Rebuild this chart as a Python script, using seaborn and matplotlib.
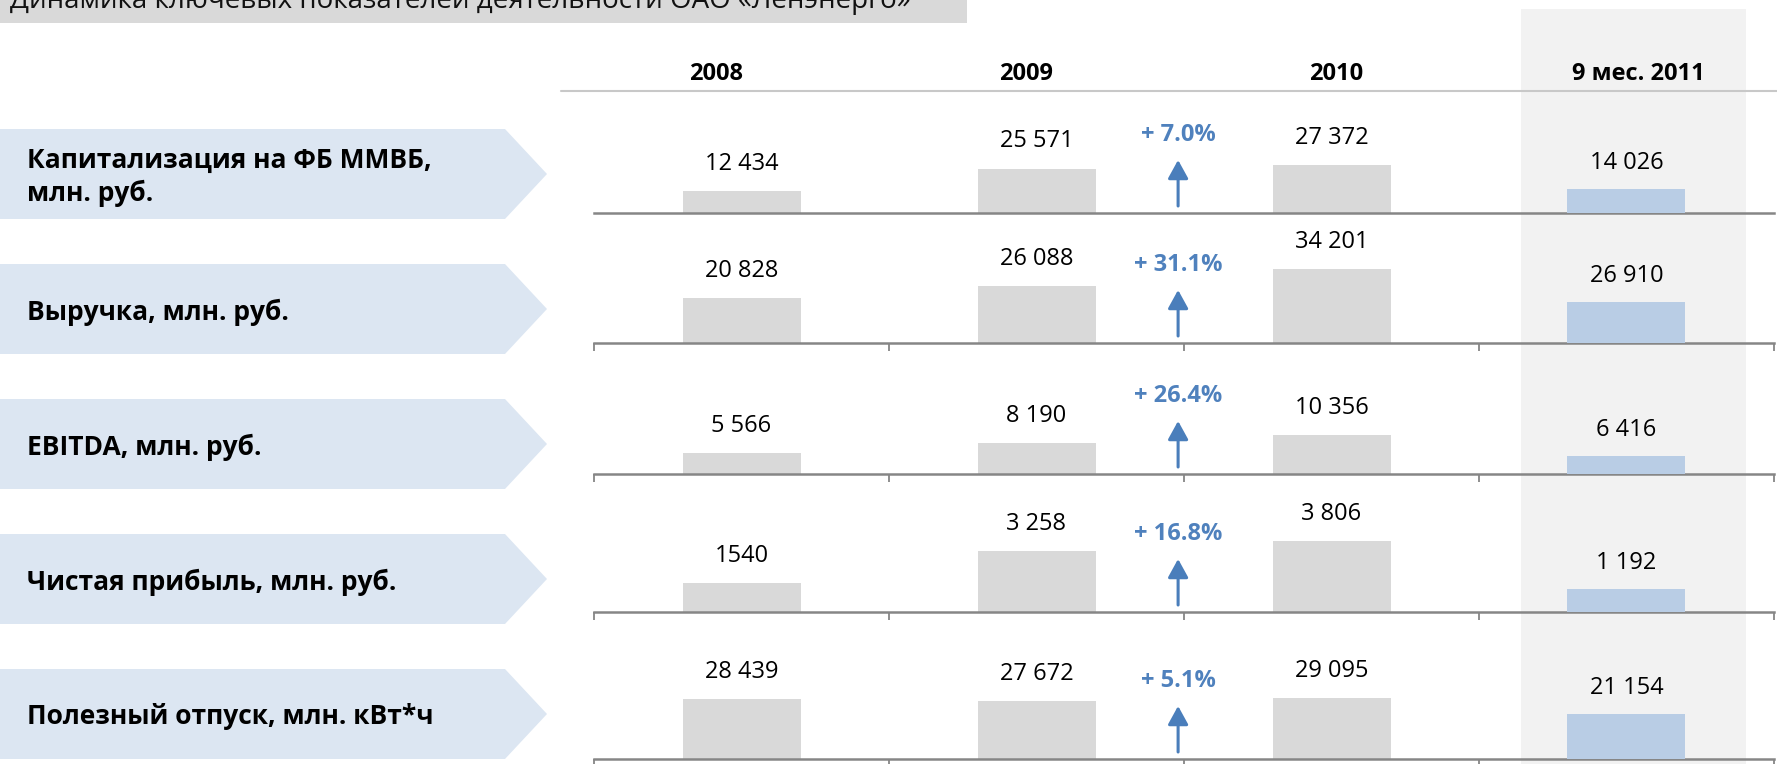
import numpy as np
import pandas as pd
import matplotlib
matplotlib.use('Agg')
import matplotlib.pyplot as plt
import seaborn as sns
from matplotlib.patches import Polygon, Rectangle
from matplotlib.transforms import blended_transform_factory

# данные со слайда
title = 'Динамика ключевых показателей деятельности ОАО «Ленэнерго»'
periods = ['2008', '2009', '2010', '9 мес. 2011']
metrics = ['Капитализация на ФБ ММВБ,\nмлн. руб.',
           'Выручка, млн. руб.',
           'EBITDA, млн. руб.',
           'Чистая прибыль, млн. руб.',
           'Полезный отпуск, млн. кВт*ч']
v2008 = [12434, 20828, 5566, 1540, 28439]
v2009 = [25571, 26088, 8190, 3258, 27672]
v2010 = [27372, 34201, 10356, 3806, 29095]
v2011 = [14026, 26910, 6416, 1192, 21154]
growth = ['+ 7.0%', '+ 31.1%', '+ 26.4%', '+ 16.8%', '+ 5.1%']
no_space = [1540]  # на слайде без пробела

# разметка (пиксели)
W, H = 1777, 764
ax_l, ax_r = 594, 1774
baselines = [213, 343, 474, 612, 759]
box_tops = [129, 264, 399, 534, 669]
ax_h = 100
ymax_main = [57500, 46100, 26450, 5350, 47600]
ymax_part = [58400, 65800, 35700, 5180, 47000]
head_dx = [-0.085, -0.034, 0.014, 0.04]

grey_bar = '#d9d9d9'
blue_bar = '#b9cde5'
blue = '#4a7ebb'
axis_c = '#868686'

sns.set_style('white')
plt.rcParams['font.family'] = ['Open Sans', 'DejaVu Sans']


def fmt(v):
    if v in no_space:
        return str(v)
    return f'{v:,}'.replace(',', ' ')


df = pd.DataFrame({
    'metric': np.repeat(range(len(metrics)), len(periods)),
    'period': periods * len(metrics),
    'value': np.ravel(np.column_stack([v2008, v2009, v2010, v2011])),
})

fig = plt.figure(figsize=(W / 100, H / 100), dpi=100)

# фон: заголовок, стрелки-подписи, выделение колонки 2011
bg = fig.add_axes([0, 0, 1, 1], zorder=0)
bg.set_xlim(0, W)
bg.set_ylim(H, 0)
bg.axis('off')
bg.add_patch(Rectangle((0, 0), 967, 23, color='#d9d9d9', lw=0))
bg.add_patch(Rectangle((1521, 9), 225, H, color='#f2f2f2', lw=0))
bg.plot([561, W], [91, 91], color='#c8c8c8', lw=1.5)
bg.text(10, 8, title, va='baseline', ha='left', fontsize=20, color='#111111')
for top, name in zip(box_tops, metrics):
    pts = [(0, top), (505, top), (547, top + 45), (505, top + 90), (0, top + 90)]
    bg.add_patch(Polygon(pts, closed=True, color='#dce6f2', lw=0))
    bg.text(27, top + 48, name, va='center', ha='left', fontsize=19,
            fontweight='bold', linespacing=1.25, color='#000000')

axes = []
for i in range(len(metrics)):
    b = baselines[i]
    ax = fig.add_axes([ax_l / W, (H - b) / H, (ax_r - ax_l) / W, ax_h / H], zorder=2)
    ax.patch.set_alpha(0)
    sub = df[df.metric == i]
    sns.barplot(data=sub[sub.period != periods[-1]], x='period', y='value', order=periods,
                color=grey_bar, saturation=1, width=0.4, linewidth=0, ax=ax)
    ax2 = ax.twinx()
    sns.barplot(data=sub[sub.period == periods[-1]], x='period', y='value', order=periods,
                color=blue_bar, saturation=1, width=0.4, linewidth=0, ax=ax2)
    ax.set_ylim(0, ymax_main[i])
    ax2.set_ylim(0, ymax_part[i])
    for a in (ax, ax2):
        a.set_xlim(-0.5, 3.5)
        a.set_xlabel('')
        a.set_ylabel('')
        a.set_yticks([])
        for s in ('left', 'right', 'top'):
            a.spines[s].set_visible(False)
    ax2.spines['bottom'].set_visible(False)
    ax.spines['bottom'].set_color(axis_c)
    ax.spines['bottom'].set_linewidth(1.8)
    ax.set_xticks([-0.5, 0.5, 1.5, 2.5, 3.5])
    ax.tick_params(axis='x', bottom=(i > 0), length=5.5, width=1.3, color=axis_c,
                   labelbottom=False, direction='out')

    vals = sub.value.tolist()
    for j in range(3):
        ax.annotate(fmt(vals[j]), xy=(j, vals[j]), xytext=(0, 19.5), textcoords='offset points',
                    ha='center', va='center', fontsize=17, color='#000000')
    ax2.annotate(fmt(vals[3]), xy=(3, vals[3]), xytext=(0, 19), textcoords='offset points',
                 ha='center', va='center', fontsize=17, color='#000000')

    tr = ax.get_xaxis_transform()
    ax.annotate('', xy=(1.48, 0.53), xytext=(1.48, 0.07), xycoords=tr, textcoords=tr,
                arrowprops=dict(arrowstyle='-|>,head_length=0.4,head_width=0.22', color=blue,
                                lw=2.2, mutation_scale=28, shrinkA=0, shrinkB=0))
    ax.text(1.48, 0.78, growth[i], transform=tr, ha='center', va='center',
            fontsize=17, fontweight='bold', color='#4f81bd')
    axes.append(ax)

# подписи периодов над первой строкой
tr_head = blended_transform_factory(axes[0].transData, bg.transData)
for k, p in enumerate(periods):
    axes[0].text(k + head_dx[k], 74, p, transform=tr_head, ha='center', va='center',
                 fontsize=17, fontweight='bold', color='#000000')

fig.savefig('out.png', dpi=100)
